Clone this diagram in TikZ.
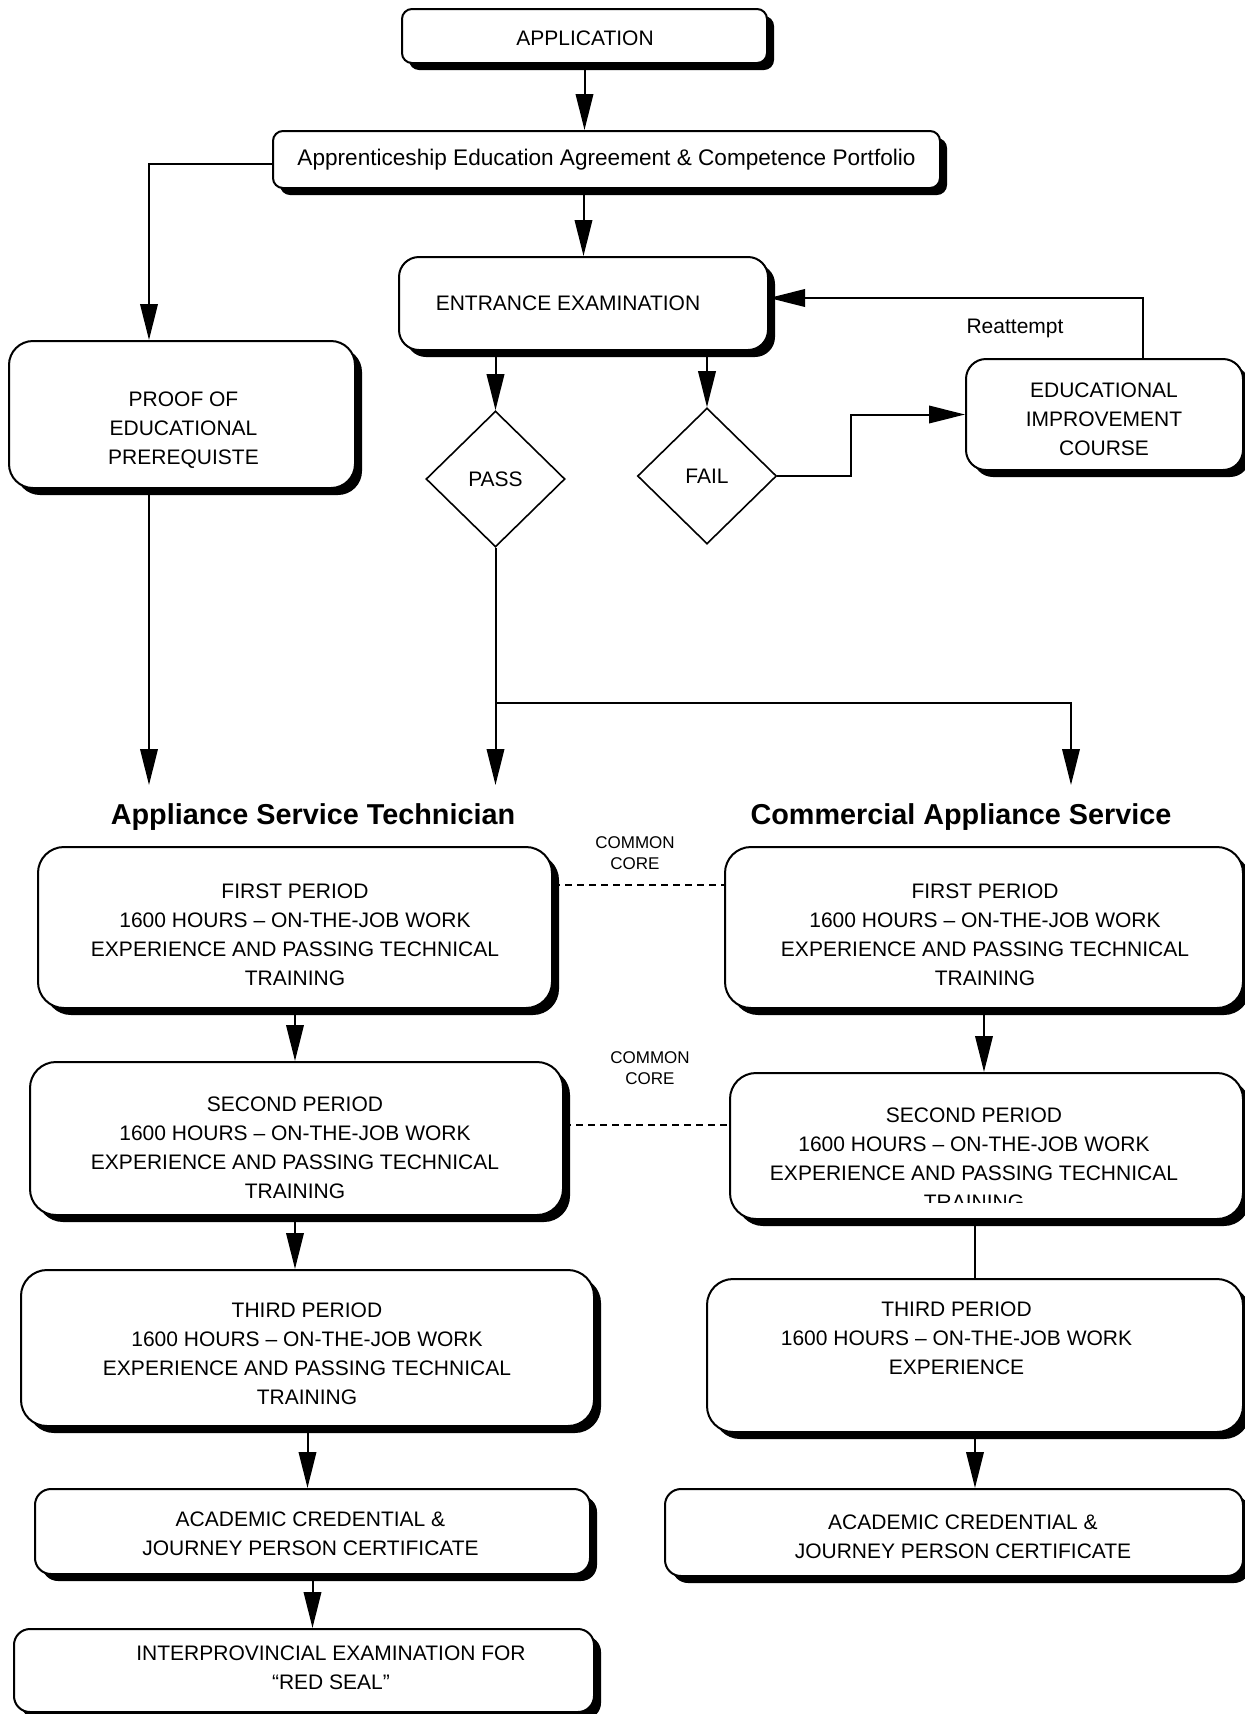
\documentclass[tikz,border=0pt]{standalone}
\usepackage{fontspec}
\setmainfont{Liberation Sans}
\usetikzlibrary{arrows.meta,shapes.geometric,shadows,positioning}

\tikzset{
  box/.style={draw, line width=1pt, rounded corners=12pt, fill=white, align=center, inner sep=0pt,
    drop shadow={shadow xshift=3.5pt, shadow yshift=-3.5pt, fill=black, opacity=1},
    font=\fontsize{10.5}{14.5}\selectfont},
  choice/.style={draw, diamond, line width=0.8pt, inner sep=0pt, fill=white,
    minimum width=69.5pt, minimum height=68pt, font=\fontsize{10.5}{14.5}\selectfont},
  txt/.style={align=center, inner sep=0pt, font=\fontsize{10.5}{14.5}\selectfont},
  track/.style={inner sep=0pt, font=\bfseries\fontsize{14.4}{16}\selectfont},
  note/.style={align=center, inner sep=0pt, font=\fontsize{8.5}{10.5}\selectfont},
  arr/.style={line width=1pt, -{Triangle[length=18pt,width=8.75pt]}},
  link/.style={line width=1pt},
  core/.style={line width=0.8pt, dash pattern=on 3.5pt off 2.5pt}
}

\begin{document}
\begin{tikzpicture}[x=0.5pt,y=-0.5pt]
  \useasboundingbox (0,0) rectangle (1244,1714);

  % intake
  \node[box,rounded corners=5pt,minimum width=182.5pt,minimum height=27pt] (app) at (584.5,36) {};
  \node[txt] (appTxt) at (585,38) {APPLICATION};
  \node[box,rounded corners=5pt,minimum width=333.5pt,minimum height=28.5pt,font=\fontsize{11.3}{13}\selectfont] (agree) at (606.5,159.5) {Apprenticeship Education Agreement \& Competence Portfolio};
  \node[box,rounded corners=10pt,minimum width=184.5pt,minimum height=46.5pt] (entr) at (583.5,303.5) {};
  \node[txt] (entrTxt) at (568,303) {ENTRANCE EXAMINATION};
  \node[box,minimum width=173pt,minimum height=73.5pt] (proof) at (182,414.5) {};
  \node[txt] (proofTxt) at (183.5,430) {PROOF OF\\EDUCATIONAL\\PREREQUISTE};
  \node[choice] (pass) at (495.5,479) {PASS};
  \node[choice] (fail) at (707,476) {FAIL};
  \node[box,rounded corners=10pt,minimum width=138.5pt,minimum height=55.5pt] (eic) at (1104.5,414.5) {};
  \node[txt] (eicTxt) at (1104,419) {EDUCATIONAL\\IMPROVEMENT\\COURSE};
  \node[txt] (retry) at (1015,328) {Reattempt};

  \draw[arr] (app.south) -- (app.south |- agree.north);
  \draw[arr] (entr.north |- agree.south) -- (entr.north);
  \draw[arr] ([yshift=-2.25pt]agree.west) -| ([xshift=-16.5pt]proof.north);
  \draw[arr] (entr.south -| pass.north) -- (pass.north);
  \draw[arr] (entr.south -| fail.north) -- (fail.north);
  \draw[arr] (fail.east) -- ++(74,0) |- (eic.west);
  \draw[arr] ([xshift=19.25pt]eic.north) |- ([yshift=2.75pt]entr.east);

  \coordinate (split) at (495.5,703);
  \coordinate (tipA) at (149,785);
  \coordinate (tipB) at (495.5,785);
  \coordinate (tipC) at (1071,785);
  \draw[arr] ([xshift=-16.5pt]proof.south) -- (tipA);
  \draw[link] (pass.south) -- (split);
  \draw[arr] (split) -- (tipB);
  \draw[arr] (split) -| (tipC);

  % two trades
  \node[track] (hdA) at (313,817) {Appliance Service Technician};
  \node[track] (hdB) at (961,817) {Commercial Appliance Service};

  \node[box,rounded corners=13pt,minimum width=257pt,minimum height=80.5pt] (p1a) at (295,927.5) {};
  \node[txt] (p1aTxt) at (295,935) {FIRST PERIOD\\1600 HOURS – ON-THE-JOB WORK\\EXPERIENCE AND PASSING TECHNICAL\\TRAINING};
  \node[box,rounded corners=13pt,minimum width=259pt,minimum height=80.5pt] (p1b) at (984,927.5) {};
  \node[txt] (p1bTxt) at (985,935) {FIRST PERIOD\\1600 HOURS – ON-THE-JOB WORK\\EXPERIENCE AND PASSING TECHNICAL\\TRAINING};
  \node[note] (coreA) at (635,853) {COMMON\\CORE};

  \node[box,rounded corners=13pt,minimum width=266.5pt,minimum height=76.5pt] (p2a) at (296.5,1138.5) {};
  \node[txt] (p2aTxt) at (295,1148) {SECOND PERIOD\\1600 HOURS – ON-THE-JOB WORK\\EXPERIENCE AND PASSING TECHNICAL\\TRAINING};
  \node[box,rounded corners=13pt,minimum width=256.5pt,minimum height=73pt] (p2b) at (986.5,1146) {};
  \begin{scope}
    \clip (730,1073) rectangle (1243,1202);
    \node[txt] (p2bTxt) at (974,1159) {SECOND PERIOD\\1600 HOURS – ON-THE-JOB WORK\\EXPERIENCE AND PASSING TECHNICAL\\TRAINING};
  \end{scope}
  \node[note] (coreB) at (650,1068) {COMMON\\CORE};

  \node[box,rounded corners=13pt,minimum width=286.5pt,minimum height=78pt] (p3a) at (307.5,1348) {};
  \node[txt] (p3aTxt) at (307,1354) {THIRD PERIOD\\1600 HOURS – ON-THE-JOB WORK\\EXPERIENCE AND PASSING TECHNICAL\\TRAINING};
  \node[box,rounded corners=13pt,minimum width=268pt,minimum height=76.5pt] (p3b) at (975,1355.5) {};
  \node[txt] (p3bTxt) at (956.5,1338) {THIRD PERIOD\\1600 HOURS – ON-THE-JOB WORK\\EXPERIENCE};

  \node[box,rounded corners=8pt,minimum width=277.5pt,minimum height=42.5pt] (aca) at (312.5,1531.5) {};
  \node[txt] (acaTxt) at (310.5,1534) {ACADEMIC CREDENTIAL \&\\JOURNEY PERSON CERTIFICATE};
  \node[box,rounded corners=8pt,minimum width=289pt,minimum height=43.5pt] (acb) at (954,1532.5) {};
  \node[txt] (acbTxt) at (963,1537) {ACADEMIC CREDENTIAL \&\\JOURNEY PERSON CERTIFICATE};
  \node[box,rounded corners=8pt,minimum width=290pt,minimum height=41.5pt] (inter) at (304,1670.5) {};
  \node[txt] (interTxt) at (331,1667.5) {INTERPROVINCIAL EXAMINATION FOR\\“RED SEAL”};

  \draw[core] ([yshift=21.25pt]p1a.east) coordinate (c1) -- (c1 -| p1b.west);
  \draw[core] ([yshift=6.75pt]p2a.east) coordinate (c2) -- (c2 -| p2b.west);
  \draw[arr] (p1a.south) -- (p1a.south |- p2a.north);
  \draw[arr] (p2a.south -| p1a.south) -- (p1a.south |- p3a.north);
  \draw[arr] (p3a.south) -- (p3a.south |- aca.north);
  \draw[arr] (aca.south) -- (aca.south |- inter.north);
  \draw[arr] (p1b.south) -- (p1b.south |- p2b.north);
  \draw[link] (p3b.north |- p2b.south) -- (p3b.north);
  \draw[arr] (p3b.south) -- (p3b.south |- acb.north);
\end{tikzpicture}
\end{document}
